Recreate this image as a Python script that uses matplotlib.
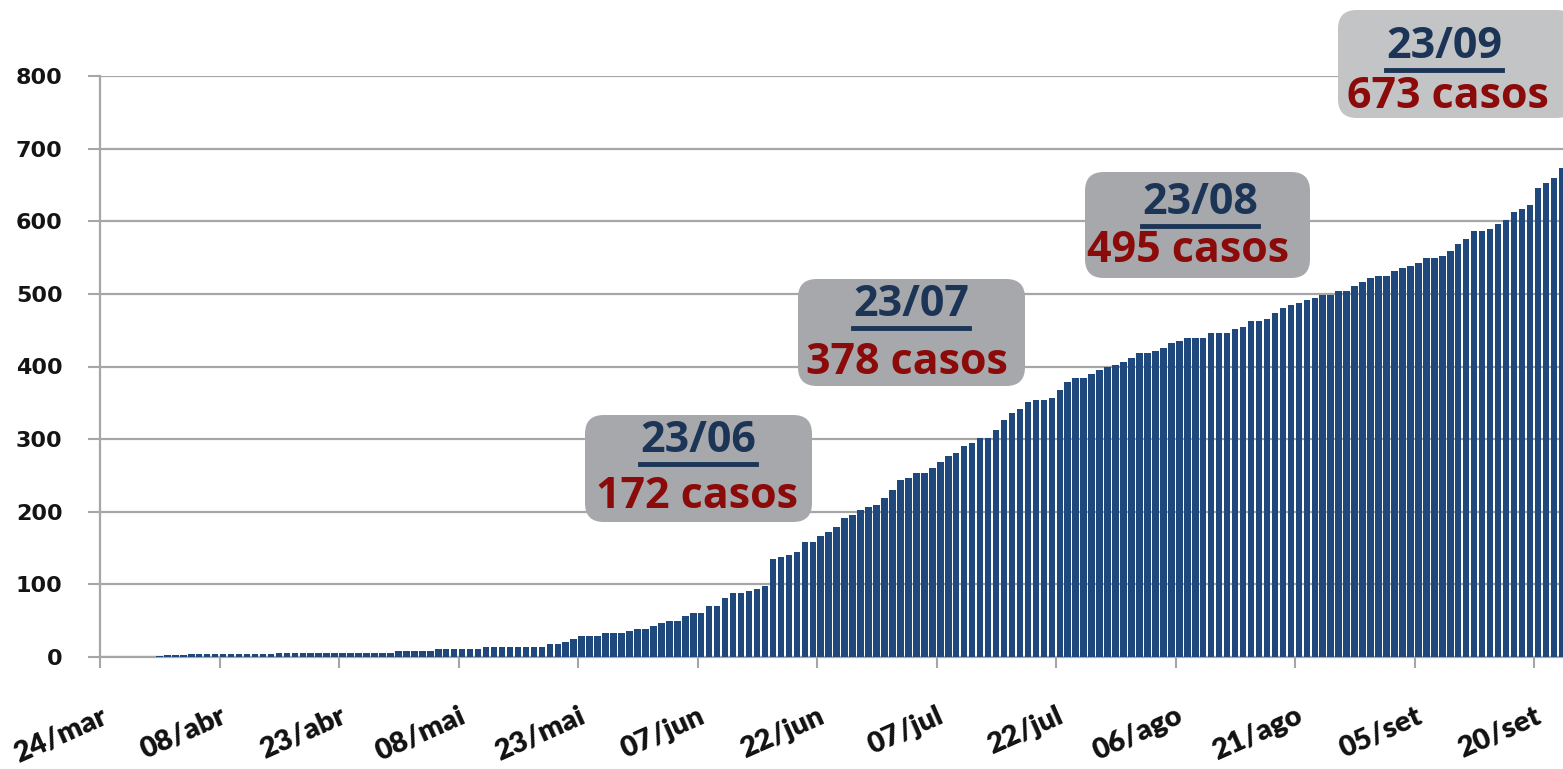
import numpy as np
import matplotlib
matplotlib.use("Agg")
import matplotlib.pyplot as plt
from matplotlib.patches import FancyBboxPatch
from matplotlib.lines import Line2D

# dias contados a partir de 24/mar; primeira barra em 31/mar (dia 7)
primeiro_dia = 7
casos = [
    2, 3, 3, 3, 4, 4, 4, 4, 4, 4, 4, 4, 4, 4, 4,          # 31/mar - 14/abr
    5, 5, 5, 5, 5, 5, 5, 5, 5, 5, 5, 5, 5, 5, 5,          # 15/abr - 29/abr
    8, 8, 8, 8, 8, 11, 11, 11, 11, 11, 11,                # 30/abr - 10/mai
    14, 14, 14, 14, 14, 14, 14, 14, 18, 18, 21, 25,       # 11/mai - 22/mai
    29, 29, 29, 33, 33, 33, 36, 39, 39, 43, 47, 50, 50,   # 23/mai - 04/jun
    56, 60, 60, 70, 70, 81, 88, 88, 91, 94, 98,           # 05/jun - 15/jun
    135, 138, 141, 145, 158, 158, 166, 172, 179, 192,     # 16/jun - 25/jun
    196, 202, 206, 209, 219, 230, 244, 247, 254, 254,     # 26/jun - 05/jul
    260, 268, 277, 281, 291, 294, 301, 301, 312, 326,     # 06/jul - 15/jul
    336, 342, 351, 354, 354, 357, 367, 378, 384, 384,     # 16/jul - 25/jul
    390, 395, 399, 402, 406, 412, 418, 418, 422, 425,     # 26/jul - 04/ago
    432, 435, 439, 439, 439, 446, 446, 446, 452, 455,     # 05/ago - 14/ago
    463, 463, 466, 474, 480, 485, 488, 491, 495, 499,     # 15/ago - 24/ago
    499, 504, 504, 511, 517, 522, 524, 524, 531, 535,     # 25/ago - 03/set
    538, 542, 549, 549, 552, 559, 568, 575, 586, 586,     # 04/set - 13/set
    590, 596, 602, 613, 617, 623, 646, 653, 660, 673,     # 14/set - 23/set
]

tick_dias = [0, 15, 30, 45, 60, 75, 90, 105, 120, 135, 150, 165, 180]
tick_labels = ["24/mar", "08/abr", "23/abr", "08/mai", "23/mai", "07/jun", "22/jun",
               "07/jul", "22/jul", "06/ago", "21/ago", "05/set", "20/set"]

ann_datas = ["23/06", "23/07", "23/08", "23/09"]
ann_casos = [172, 378, 495, 673]

W, H = 1563, 769
fig = plt.figure(figsize=(W / 100, H / 100), dpi=100)
ax = fig.add_axes([100 / W, 1 - 657 / H, 1 - 100 / W, (657 - 76) / H])

dias = np.arange(primeiro_dia, primeiro_dia + len(casos))
ax.bar(dias + 0.45, casos, width=0.82, color="#1f497d", zorder=3)

ax.set_ylim(0, 800)
ax.set_xlim(0, 183.6)
ax.set_yticks(range(0, 801, 100))
ax.yaxis.grid(True, color="#a6a6a6", linewidth=1.6, zorder=0)
ax.set_axisbelow(True)

for s in ["top", "right"]:
    ax.spines[s].set_visible(False)
for s in ["left", "bottom"]:
    ax.spines[s].set_color("#a6a6a6")
    ax.spines[s].set_linewidth(1.6)

ax.tick_params(axis="y", length=9, width=1.5, color="#a6a6a6", pad=18,
               labelsize=16, labelcolor="#141414")
for t in ax.get_yticklabels():
    t.set_fontweight("bold")
    t.set_family("DejaVu Sans")

ax.set_xticks(tick_dias)
ax.set_xticklabels(tick_labels, rotation=24, ha="right", va="top",
                   rotation_mode="anchor", fontsize=21, fontweight="heavy",
                   family="Lato", color="#111111")
ax.tick_params(axis="x", length=8, width=1.5, color="#a6a6a6", pad=25)

# caixas de destaque (posições em pixels da figura)
caixas = [
    ((585, 415, 812, 522), (698, 441), (697, 497), "#a7a8ab"),
    ((798, 279, 1025, 386), (911, 305), (907, 362), "#a7a8ab"),
    ((1085, 172, 1310, 278), (1200, 203), (1188, 250), "#a7a8ab"),
    ((1338, 10, 1575, 118), (1444, 47), (1448, 97), "#c3c4c6"),
]

def fx(x):
    return x / W

def fy(y):
    return 1 - y / H

textos_data = []
for (box, pd, pc, cor), d, c in zip(caixas, ann_datas, ann_casos):
    x0, y0, x1, y1 = box
    fig.patches.append(FancyBboxPatch(
        (fx(x0), fy(y1)), fx(x1 - x0), (y1 - y0) / H,
        boxstyle="round,pad=0,rounding_size=0.012", transform=fig.transFigure,
        facecolor=cor, edgecolor="none", zorder=5, mutation_aspect=W / H))
    td = fig.text(fx(pd[0]), fy(pd[1]), d, ha="center", va="center", fontsize=31,
                  fontweight="bold", family="Open Sans", color="#1c3557", zorder=6)
    fig.text(fx(pc[0]), fy(pc[1]), f"{c} casos", ha="center", va="center", fontsize=31,
             fontweight="bold", family="Open Sans", color="#8b0a0a", zorder=6)
    textos_data.append(td)

fig.canvas.draw()
r = fig.canvas.get_renderer()
for td in textos_data:
    bb = td.get_window_extent(r)
    yl = bb.y0 - 1
    fig.add_artist(Line2D([bb.x0 / W, bb.x1 / W], [yl / H, yl / H], transform=fig.transFigure,
                          color="#1c3557", linewidth=3.5, zorder=7))

fig.savefig("out.png", dpi=100)
